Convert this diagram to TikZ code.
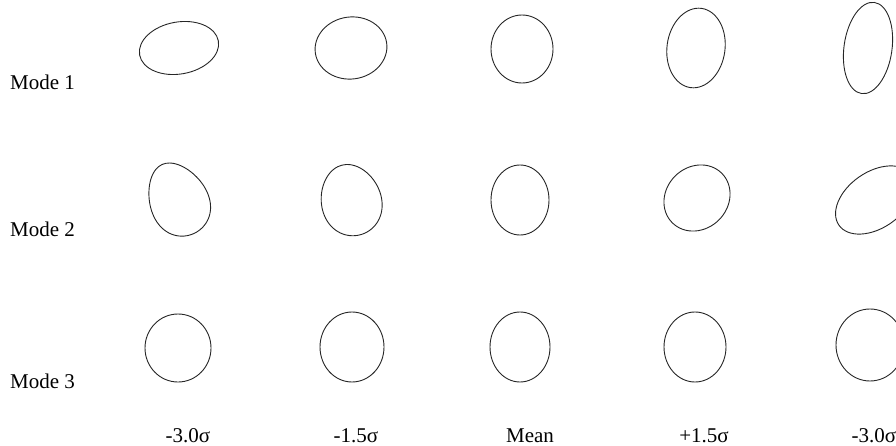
\documentclass[tikz,border=0pt]{standalone}
\usepackage{fontspec}
\setmainfont{Liberation Serif}

\begin{document}
\begin{tikzpicture}[
  x=1pt, y=1pt,
  font=\fontsize{21}{25}\selectfont,
  blob/.style={draw=black!85, line width=0.9pt},
  rowlabel/.style={anchor=base west, inner sep=0pt},
  collabel/.style={anchor=base, inner sep=0pt}
]
  \useasboundingbox (0,0) rectangle (896,445);

  % row labels
  \node[rowlabel] (mode1) at (10,355) {Mode 1};
  \node[rowlabel] (mode2) at (10,209) {Mode 2};
  \node[rowlabel] (mode3) at (10,57)  {Mode 3};

  % column labels
  \node[collabel] (sdm3)  at (188,3) {-3.0σ};
  \node[collabel] (sdm15) at (356,3) {-1.5σ};
  \node[collabel] (mean)  at (530,3) {Mean};
  \node[collabel] (sdp15) at (704,3) {+1.5σ};
  \node[collabel] (sdp3)  at (874,3) {-3.0σ};

  % mode 1
  \draw[blob, rotate around={10:(179,397)}] (179,397) ellipse[x radius=40, y radius=26];
  \draw[blob, rotate around={8:(351,397)}]  (351,397) ellipse[x radius=36, y radius=31];
  \draw[blob] (522,396) ellipse[x radius=31, y radius=34];
  \draw[blob, rotate around={-8:(696,397)}] (696,397) ellipse[x radius=29, y radius=40];
  \draw[blob, rotate around={-8:(868,397)}] (868,397) ellipse[x radius=24, y radius=46];

  % mode 2
  \draw[blob, shift={(178,246)}, rotate=25]
    plot[smooth cycle, samples=40, domain=0:351] ({29*cos(\x)*(1-0.15*sin(\x))}, {38*sin(\x)});
  \draw[blob, shift={(351,245)}, rotate=15]
    plot[smooth cycle, samples=40, domain=0:351] ({30*cos(\x)*(1-0.08*sin(\x))}, {36*sin(\x)});
  \draw[blob] (520,245) ellipse[x radius=29, y radius=35];
  \draw[blob, rotate around={45:(697,247)}] (697,247) ellipse[x radius=35, y radius=31];
  \draw[blob, rotate around={35:(875,245)}] (875,245) ellipse[x radius=44, y radius=28];

  % mode 3
  \draw[blob] (178,97)  ellipse[x radius=33, y radius=34];
  \draw[blob] (352,98)  ellipse[x radius=32, y radius=35];
  \draw[blob] (520,98)  ellipse[x radius=30, y radius=35];
  \draw[blob] (695,98)  ellipse[x radius=31, y radius=35];
  \draw[blob] (870,100) ellipse[x radius=34, y radius=36];
\end{tikzpicture}
\end{document}
